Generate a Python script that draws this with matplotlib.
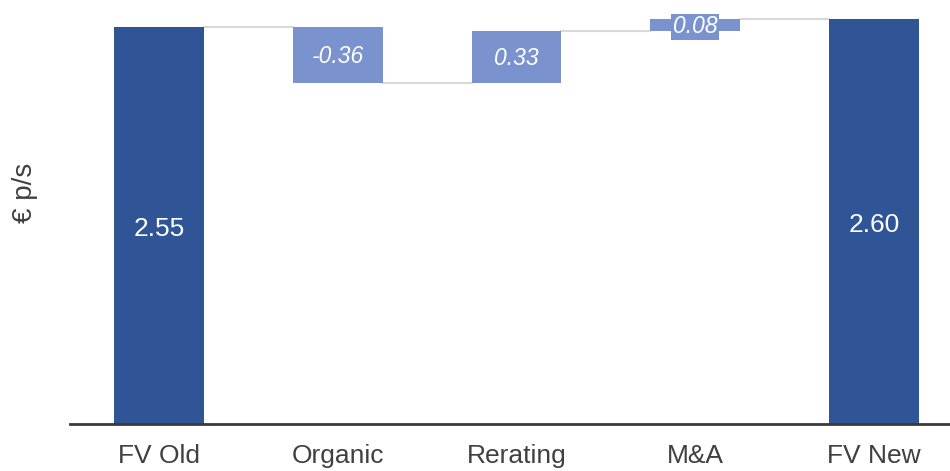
import numpy as np
from matplotlib import pyplot as plt
from matplotlib import transforms

# data
categories = ['FV Old', 'Organic', 'Rerating', 'M&A', 'FV New']
start_value = 2.55
changes = [-0.36, 0.33, 0.08]
end_value = 2.60

DARK = '#2F5597'
LIGHT = '#7A93CE'
GRID = '#D9D9D9'
TXT = '#404040'

plt.rcParams['font.family'] = ['Liberation Sans', 'DejaVu Sans']

# build waterfall bottoms / heights
bottoms, heights, colors_, labels = [0], [start_value], [DARK], ['%.2f' % start_value]
level = start_value
for c in changes:
  lo = min(level, level + c)
  bottoms.append(lo)
  heights.append(abs(c))
  colors_.append(LIGHT)
  labels.append('%.2f' % c)
  level += c
bottoms.append(0)
heights.append(end_value)
colors_.append(DARK)
labels.append('%.2f' % end_value)

x = np.arange(len(categories))
width = 0.503

fig = plt.figure(figsize=(9.5, 4.71), dpi=100)
ax = fig.add_axes([70/950, 47/471, 880/950, 424/471])
ax.bar(x, heights, width, bottom=bottoms, color=colors_, zorder=2)

# connectors between bars
levels = np.cumsum([start_value] + changes)
for i, lv in enumerate(levels):
  ax.plot([x[i] + width/2, x[i+1] - width/2], [lv, lv], color=GRID, lw=1.5, zorder=1)

# value labels (nudged down a little so the digits sit visually centred)
for i in range(len(x)):
  mid = bottoms[i] + heights[i] / 2
  if colors_[i] == DARK:
    tr = ax.transData + transforms.ScaledTranslation(0, -4/100, fig.dpi_scale_trans)
    ax.text(x[i], mid, labels[i], ha='center', va='center', color='white',
            fontsize=19, transform=tr)
  else:
    bb = None
    if heights[i] < 0.15:
      bb = dict(facecolor=LIGHT, edgecolor='none', pad=1.2)
    tr = ax.transData + transforms.ScaledTranslation(0, -2/100, fig.dpi_scale_trans)
    ax.text(x[i], mid, labels[i], ha='center', va='center', color='white',
            fontsize=16.5, style='italic', bbox=bb, zorder=3, transform=tr)

ax.set_xlim(-0.498, 4.425)
ax.set_ylim(0, 2.72)
ax.set_xticks(x)
ax.set_xticklabels(categories, fontsize=19, color=TXT)
ax.tick_params(axis='x', length=0, pad=14.5)
ax.set_yticks([])
for s in ['top', 'right', 'left']:
  ax.spines[s].set_visible(False)
ax.spines['bottom'].set_color('#3A3A3A')
ax.spines['bottom'].set_linewidth(2)

fig.text(25/950, 1 - 193/471, '€ p/s', rotation=90, ha='center', va='center',
         fontsize=20, color=TXT)

plt.savefig('out.png', dpi=100)
